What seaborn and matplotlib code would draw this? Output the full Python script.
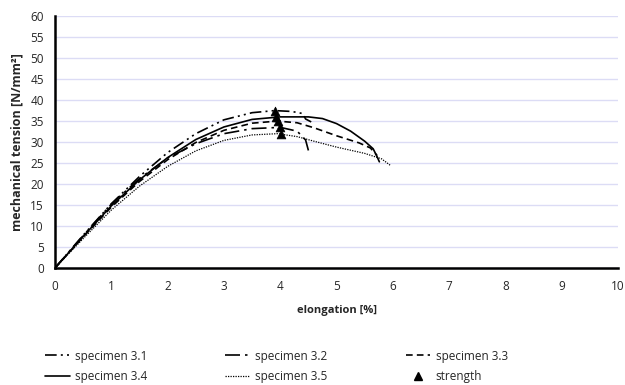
import matplotlib
matplotlib.use("Agg")
import matplotlib.pyplot as plt
import seaborn as sns
import pandas as pd

# elongation [%] / mechanical tension [N/mm²] for each specimen
x_31 = [0, 0.5, 1.0, 1.5, 2.0, 2.5, 3.0, 3.5, 3.9, 4.2, 4.4, 4.45, 4.55]
y_31 = [0, 7.8, 15.3, 21.8, 27.5, 32.0, 35.3, 37.0, 37.5, 37.3, 36.8, 35.5, 34.8]

x_32 = [0, 0.5, 1.0, 1.5, 2.0, 2.5, 3.0, 3.5, 4.0, 4.3, 4.45, 4.5]
y_32 = [0, 7.7, 15.2, 21.3, 26.2, 29.6, 32.0, 33.2, 33.5, 32.6, 30.5, 28.0]

x_33 = [0, 0.5, 1.0, 1.5, 2.0, 2.5, 3.0, 3.5, 3.95, 4.3, 4.6, 5.0, 5.4, 5.6, 5.72]
y_33 = [0, 7.4, 14.5, 20.6, 25.8, 29.9, 32.8, 34.5, 35.0, 34.6, 33.4, 31.5, 29.8, 28.6, 26.8]

x_34 = [0, 0.5, 1.0, 1.5, 2.0, 2.5, 3.0, 3.5, 4.0, 4.5, 4.75, 5.0, 5.25, 5.5, 5.65, 5.72, 5.76]
y_34 = [0, 7.5, 14.8, 21.0, 26.3, 30.6, 33.6, 35.4, 36.0, 36.0, 35.6, 34.4, 32.6, 30.2, 28.4, 26.5, 25.3]

x_35 = [0, 0.5, 1.0, 1.5, 2.0, 2.5, 3.0, 3.5, 3.95, 4.3, 4.6, 5.0, 5.5, 5.8, 5.95]
y_35 = [0, 7.0, 13.8, 19.5, 24.2, 27.9, 30.4, 31.7, 32.0, 31.3, 30.2, 28.8, 27.3, 26.0, 24.5]

strength_x = [3.90, 3.93, 3.96, 4.00, 4.02]
strength_y = [37.5, 36.0, 35.0, 33.5, 32.0]

labels = ["specimen 3.1", "specimen 3.2", "specimen 3.3", "specimen 3.4", "specimen 3.5"]
x_ticks = list(range(0, 11))
y_ticks = list(range(0, 61, 5))

sns.set_style("white")
plt.rcParams["font.family"] = ["Open Sans", "DejaVu Sans"]

fig = plt.figure(figsize=(6.25, 3.85), dpi=100)
ax = fig.add_axes([0.088, 0.304, 0.901, 0.654])

styles = [
    (0, (7, 2.5, 1.2, 2.5, 1.2, 2.5)),
    (0, (9, 3, 1.5, 3)),
    (0, (4, 2.5)),
    "-",
    (0, (1, 1)),
]
widths = [1.2, 1.2, 1.2, 1.2, 0.9]

series = [(x_31, y_31), (x_32, y_32), (x_33, y_33), (x_34, y_34), (x_35, y_35)]
handles = []
for (xs, ys), lab, ls, lw in zip(series, labels, styles, widths):
    df = pd.DataFrame({"elongation": xs, "tension": ys})
    sns.lineplot(data=df, x="elongation", y="tension", sort=False, ax=ax,
                 color="black", linewidth=lw, linestyle=ls, label=lab, legend=False)
    handles.append(ax.lines[-1])

sdf = pd.DataFrame({"elongation": strength_x, "tension": strength_y})
sns.scatterplot(data=sdf, x="elongation", y="tension", ax=ax, marker="^",
                color="black", s=40, edgecolor="black", linewidth=0.5,
                zorder=5, legend=False)
strength_handle = plt.Line2D([], [], color="black", marker="^", linestyle="none",
                             markersize=6)

ax.set_xlim(0, 10)
ax.set_ylim(0, 60)
ax.set_xticks(x_ticks)
ax.set_yticks(y_ticks)
ax.tick_params(axis="x", length=0, labelsize=8.5, pad=9)
ax.tick_params(axis="y", length=0, labelsize=8.5, pad=8)
ax.yaxis.grid(True, color="#dcdcf5", linewidth=1.0)
ax.xaxis.grid(False)
for side in ["top", "right"]:
    ax.spines[side].set_visible(False)
for side in ["left", "bottom"]:
    ax.spines[side].set_color("black")
    ax.spines[side].set_linewidth(1.8)

ax.set_xlabel("elongation [%]", fontsize=8, fontweight="bold", labelpad=8)
ax.set_ylabel("mechanical tension [N/mm²]", fontsize=9, fontweight="bold", labelpad=5)

# column-wise fill: row 1 = 3.1, 3.2, 3.3; row 2 = 3.4, 3.5, strength
order = [handles[0], handles[3], handles[1], handles[4], handles[2], strength_handle]
order_labels = [labels[0], labels[3], labels[1], labels[4], labels[2], "strength"]
fig.legend(order, order_labels, ncol=3, loc="upper left",
           bbox_to_anchor=(0.072, 0.092), frameon=False, fontsize=8.5,
           handlelength=2.1, columnspacing=6.6, handletextpad=0.45,
           labelspacing=0.6, borderaxespad=0, borderpad=0)

fig.savefig("out.png", dpi=100)
